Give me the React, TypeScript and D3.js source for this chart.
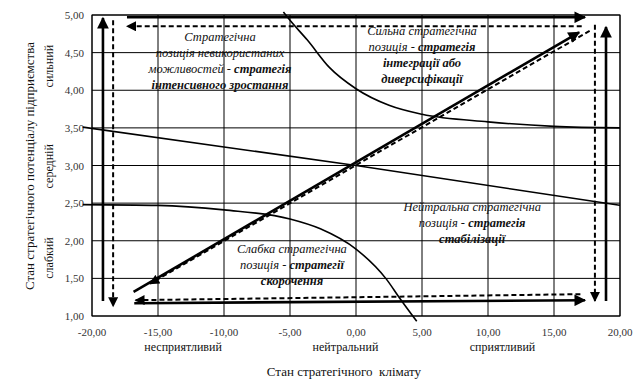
import React from "react";
import * as d3 from "d3";

const W = 643;
const H = 387;

const xTicks = [-20, -15, -10, -5, 0, 5, 10, 15, 20];
const yTicks = [1, 1.5, 2, 2.5, 3, 3.5, 4, 4.5, 5];

const upperCurveX = [-5.5, -5, -3.7, -2, 0, 2.5, 5, 10, 15, 20];
const upperCurveY = [5.04, 4.93, 4.67, 4.3, 4.02, 3.8, 3.68, 3.58, 3.52, 3.5];

const middleLineX = [-20.7, 0, 20];
const middleLineY = [3.51, 3.0, 2.47];

const lowerCurveX = [-20.7, -15, -10, -5, -2.7, 0, 2.3, 3.3, 4.6];
const lowerCurveY = [2.48, 2.47, 2.41, 2.29, 2.16, 1.89, 1.49, 1.24, 0.93];

// arrows: [x1, y1, x2, y2] with arrowhead at the second point
const solidArrows = [
  [-16.85, 1.32, 16.9, 4.77],
  [-17.35, 4.97, 17.35, 4.97],
  [-16.8, 1.17, 17.35, 1.21],
  [-19.17, 1.2, -19.17, 4.96],
  [18.94, 1.2, 18.94, 4.84],
];
const dashedArrows = [
  [17.7, 4.79, -15.6, 1.43],
  [17.1, 4.85, -17.35, 4.85],
  [17.0, 1.29, -16.7, 1.21],
  [-18.4, 4.93, -18.4, 1.13],
  [18.1, 4.87, 18.1, 1.2],
];

const xCategories = ["несприятливий", "нейтральний", "сприятливий"];
const xCategoryPos = [-13.1, -0.8, 11.1];
const yCategories = ["сильний", "середній", "слабкий"];
const yCategoryPos = [4.32, 2.99, 1.77];

type Seg = { t: string; b?: boolean };
const blocks: { x: number; y: number; lines: Seg[][] }[] = [
  {
    x: -10.3,
    y: 4.65,
    lines: [
      [{ t: "Стратегічна" }],
      [{ t: "позиція невикористаних" }],
      [{ t: "можливостей - " }, { t: "стратегія", b: true }],
      [{ t: "інтенсивного зростання", b: true }],
    ],
  },
  {
    x: 5.0,
    y: 4.73,
    lines: [
      [{ t: "Сильна стратегічна" }],
      [{ t: "позиція - " }, { t: "стратегія", b: true }],
      [{ t: "інтеграції або", b: true }],
      [{ t: "диверсифікації", b: true }],
    ],
  },
  {
    x: 8.8,
    y: 2.4,
    lines: [
      [{ t: "Нейтральна стратегічна" }],
      [{ t: "позиція - " }, { t: "стратегія", b: true }],
      [{ t: "стабілізації", b: true }],
    ],
  },
  {
    x: -4.85,
    y: 1.84,
    lines: [
      [{ t: "Слабка стратегічна" }],
      [{ t: "позиція - " }, { t: "стратегії", b: true }],
      [{ t: "скорочення", b: true }],
    ],
  },
];

const fmt = (v: number) => v.toFixed(2).replace(".", ",");

export default function App() {
  const x = d3.scaleLinear().domain([-20, 20]).range([92, 620]);
  const y = d3.scaleLinear().domain([1, 5]).range([316, 15]);
  const font = "Liberation Serif";

  const curve = (xs: number[], ys: number[]) =>
    d3
      .line<number>()
      .x((_, i) => x(xs[i]))
      .y((_, i) => y(ys[i]))
      .curve(d3.curveMonotoneX)(xs) || "";

  const lineH = 16;

  return (
    <svg
      width={W}
      height={H}
      style={{ position: "absolute", left: 0, top: 0, background: "#fff" }}
      fontFamily={font}
    >
      <defs>
        <marker id="ah" viewBox="0 0 10 10" refX="9" refY="5" markerWidth="5" markerHeight="4.5" orient="auto" markerUnits="strokeWidth">
          <path d="M0,0 L10,5 L0,10 z" fill="#000" />
        </marker>
        <marker id="ahd" viewBox="0 0 10 10" refX="9" refY="5" markerWidth="5.5" markerHeight="5" orient="auto" markerUnits="strokeWidth">
          <path d="M0,0 L10,5 L0,10 z" fill="#000" />
        </marker>
      </defs>
      <rect x={0} y={0} width={W} height={H} fill="#fff" />
      {/* grid */}
      {xTicks.map((t) => (
        <line key={"gx" + t} x1={x(t)} x2={x(t)} y1={y(1)} y2={y(5)} stroke="#000" strokeWidth={1} />
      ))}
      {yTicks.map((t) => (
        <line key={"gy" + t} x1={x(-20)} x2={x(20)} y1={y(t)} y2={y(t)} stroke="#000" strokeWidth={1} />
      ))}
      <rect x={x(-20)} y={y(5)} width={x(20) - x(-20)} height={y(1) - y(5)} fill="none" stroke="#000" strokeWidth={1} />

      {/* tick labels */}
      {yTicks.map((t) => (
        <text key={"ty" + t} x={x(-20) - 8} y={y(t) + 4} textAnchor="end" fontSize={11} fill="#333">
          {fmt(t)}
        </text>
      ))}
      {xTicks.map((t) => (
        <text key={"tx" + t} x={x(t)} y={y(1) + 20} textAnchor="middle" fontSize={11} fill="#333">
          {fmt(t)}
        </text>
      ))}

      {/* curves */}
      <path d={curve(upperCurveX, upperCurveY)} fill="none" stroke="#000" strokeWidth={1.6} />
      <path d={curve(middleLineX, middleLineY)} fill="none" stroke="#000" strokeWidth={1.6} />
      <path d={curve(lowerCurveX, lowerCurveY)} fill="none" stroke="#000" strokeWidth={1.6} />

      {/* arrows */}
      {solidArrows.map((a, i) => (
        <line key={"sa" + i} x1={x(a[0])} y1={y(a[1])} x2={x(a[2])} y2={y(a[3])} stroke="#000" strokeWidth={2.6} markerEnd="url(#ah)" />
      ))}
      {dashedArrows.map((a, i) => (
        <line key={"da" + i} x1={x(a[0])} y1={y(a[1])} x2={x(a[2])} y2={y(a[3])} stroke="#000" strokeWidth={2} strokeDasharray="5,3" markerEnd="url(#ahd)" />
      ))}

      {/* text blocks */}
      {blocks.map((b, bi) => (
        <text key={"b" + bi} fontSize={12.5} fontStyle="italic" textAnchor="middle" fill="#111">
          {b.lines.map((ln, li) => (
            <tspan key={li} x={x(b.x)} y={y(b.y) + li * lineH}>
              {ln.map((s, si) => (
                <tspan key={si} fontWeight={s.b ? "bold" : "normal"}>
                  {s.t}
                </tspan>
              ))}
            </tspan>
          ))}
        </text>
      ))}

      {/* category labels */}
      {xCategories.map((c, i) => (
        <text key={"xc" + i} x={x(xCategoryPos[i])} y={351} textAnchor="middle" fontSize={12} fill="#111">
          {c}
        </text>
      ))}
      {yCategories.map((c, i) => (
        <text key={"yc" + i} transform={`translate(53,${y(yCategoryPos[i])}) rotate(-90)`} textAnchor="middle" fontSize={12} fill="#111">
          {c}
        </text>
      ))}
      <text x={344} y={376} textAnchor="middle" fontSize={13} fill="#111" style={{ whiteSpace: "pre" }}>
        Стан стратегічного  клімату
      </text>
      <text transform={`translate(34,166) rotate(-90)`} textAnchor="middle" fontSize={13} fill="#111">
        Стан стратегічного потенціалу підприємства
      </text>
    </svg>
  );
}
